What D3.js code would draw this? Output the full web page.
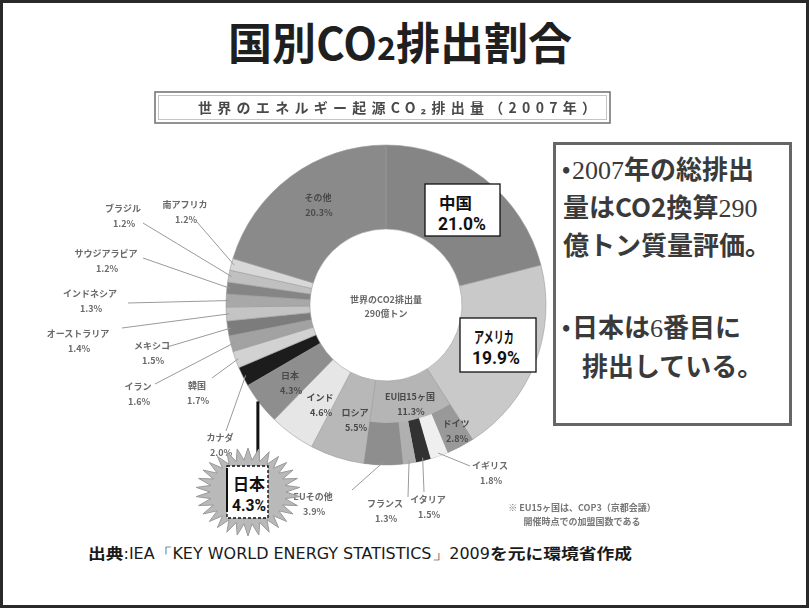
<!DOCTYPE html>
<html>
<head>
<meta charset="utf-8">
<script src="https://cdn.jsdelivr.net/npm/d3@7"></script>
<style>
  body { margin: 0; background: #fff; }
  svg { display: block; font-family: "Noto Sans CJK JP", "Noto Sans", sans-serif; }
</style>
</head>
<body>
<script>
'use strict';

// ---- data ----
const countries = ["中国", "アメリカ", "EU旧15ヶ国", "ロシア", "インド", "日本", "カナダ", "韓国",
  "イラン", "メキシコ", "オーストラリア", "インドネシア", "サウジアラビア", "ブラジル", "南アフリカ", "その他"];
const shares = [21.0, 19.9, 11.3, 5.5, 4.6, 4.3, 2.0, 1.7, 1.6, 1.5, 1.4, 1.3, 1.2, 1.2, 1.2, 20.3];

const euParts = ["ドイツ", "イギリス", "イタリア", "フランス", "EUその他"];
const euShares = [2.8, 1.8, 1.5, 1.3, 3.9];

const slideTitle = "国別CO2排出割合";
const chartTitle = "世界のエネルギー起源CO₂排出量（2007年）";
const centerLines = ["世界のCO2排出量", "290億トン"];
const sideLines1 = ["•2007年の総排出", "量はCO2換算290", "億トン質量評価。"];
const sideLines2 = ["•日本は6番目に", "排出している。"];
const sourceParts = ["出典", ":IEA「KEY WORLD ENERGY STATISTICS」2009", "を元に環境省作成"];
const noteLines = ["※ EU15ヶ国は、COP3（京都会議）", "開催時点での加盟国数である"];

// ---- styles / layout ----
const fills = {
  "中国": "#858585", "アメリカ": "#c9c9c9", "EU旧15ヶ国": "#b5b5b5", "ロシア": "#b8b8b8",
  "インド": "#e6e6e6", "日本": "#8e8e8e", "カナダ": "#1e1e1e", "韓国": "#d2d2d2",
  "イラン": "#a2a2a2", "メキシコ": "#7c7c7c", "オーストラリア": "#c4c4c4", "インドネシア": "#a8a8a8",
  "サウジアラビア": "#858585", "ブラジル": "#c0c0c0", "南アフリカ": "#d8d8d8", "その他": "#8a8a8a",
  "ドイツ": "#999999", "イギリス": "#efefef", "イタリア": "#333333", "フランス": "#b0b0b0", "EUその他": "#8e8e8e"
};

// label anchor [x, y] and leader start [x, y] (null = label sits on the ring)
const labelPos = {
  "ブラジル": [[123, 212], [143, 223]],
  "南アフリカ": [[185, 208], [197, 222]],
  "サウジアラビア": [[106, 257], [143, 258]],
  "インドネシア": [[90, 297], [128, 303]],
  "オーストラリア": [[78, 337], [122, 328]],
  "メキシコ": [[152, 349], [167, 347]],
  "イラン": [[138, 390], [155, 384]],
  "韓国": [[197, 389], [212, 378]],
  "カナダ": [[220, 441], [226, 431]],
  "EUその他": [[313, 500], [352, 490]],
  "フランス": [[385, 507], [408, 497]],
  "イタリア": [[428, 503], [424, 492]],
  "イギリス": [[490, 469], [470, 466]],
  "その他": [[318, 201], null],
  "日本": [[290, 379], null],
  "インド": [[320, 401], null],
  "ロシア": [[355, 416], null],
  "EU旧15ヶ国": [[410, 400], null],
  "ドイツ": [[456, 427], null]
};

const W = 809, H = 608;
const cx = 386, cy = 305;
const rOuter = 160, rInner = 76, rEuSplit = 118;

const svg = d3.select("body").append("svg")
  .attr("width", W)
  .attr("height", H);

const defs = svg.append("defs");
defs.append("filter").attr("id", "soft")
  .append("feGaussianBlur").attr("stdDeviation", 0.6);
defs.append("filter").attr("id", "fuzzy")
  .attr("x", "-20%").attr("y", "-50%").attr("width", "140%").attr("height", "200%")
  .append("feGaussianBlur").attr("stdDeviation", 0.5);

// slide frame
svg.append("rect")
  .attr("x", 1.5).attr("y", 1.5)
  .attr("width", W - 3).attr("height", H - 3)
  .attr("fill", "#fff")
  .attr("stroke", "#2a2a2a")
  .attr("stroke-width", 3);

// slide title
const t = svg.append("text")
  .attr("x", 400).attr("y", 60)
  .attr("text-anchor", "middle")
  .attr("font-size", 44)
  .attr("font-weight", 700)
  .attr("fill", "#1f1f1f");
t.append("tspan").text(slideTitle.slice(0, 4));
t.append("tspan").attr("font-size", 32).text(slideTitle.slice(4, 5));
t.append("tspan").text(slideTitle.slice(5));

// chart title box (double border)
svg.append("rect")
  .attr("x", 155).attr("y", 92).attr("width", 455).attr("height", 31)
  .attr("fill", "#fff").attr("stroke", "#777").attr("stroke-width", 1.6);
svg.append("rect")
  .attr("x", 158.5).attr("y", 95.5).attr("width", 448).attr("height", 24)
  .attr("fill", "none").attr("stroke", "#c4c4c4").attr("stroke-width", 1);
svg.append("text")
  .attr("x", 198).attr("y", 113)
  .attr("textLength", 398)
  .attr("lengthAdjust", "spacing")
  .attr("font-size", 14)
  .attr("font-weight", 700)
  .attr("fill", "#4a4a4a")
  .attr("filter", "url(#fuzzy)")
  .text(chartTitle);

// ---- donut ----
const pie = d3.pie().sort(null).value(d => d.v);
const mainData = countries.map((c, i) => ({ name: c, v: shares[i] }));
const arcs = pie(mainData);

const arc = d3.arc().innerRadius(rInner).outerRadius(rOuter);
const ring = svg.append("g")
  .attr("transform", `translate(${cx},${cy})`)
  .attr("filter", "url(#soft)");

ring.selectAll("path.main")
  .data(arcs)
  .enter()
  .append("path")
  .attr("class", "main")
  .attr("d", arc)
  .attr("fill", d => fills[d.data.name])
  .attr("stroke", "#9c9c9c")
  .attr("stroke-width", 0.6);

// EU breakdown in the outer band of the EU slice
const euArc = arcs.find(a => a.data.name === "EU旧15ヶ国");
const euPie = d3.pie().sort(null).value(d => d.v)
  .startAngle(euArc.startAngle).endAngle(euArc.endAngle);
const euData = euPie(euParts.map((c, i) => ({ name: c, v: euShares[i] })));
const arcEu = d3.arc().innerRadius(rEuSplit).outerRadius(rOuter);
ring.selectAll("path.eu")
  .data(euData)
  .enter()
  .append("path")
  .attr("class", "eu")
  .attr("d", arcEu)
  .attr("fill", d => fills[d.data.name]);

// find share text and mid-angle for any name
const allArcs = arcs.concat(euData);
function info(name) {
  const a = allArcs.find(d => d.data.name === name);
  return { pct: a.data.v.toFixed(1) + "%", mid: (a.startAngle + a.endAngle) / 2 };
}
function edgePoint(angle, r) {
  return [cx + r * Math.sin(angle), cy - r * Math.cos(angle)];
}

// leaders + small labels
const small = svg.append("g").attr("filter", "url(#fuzzy)");
Object.keys(labelPos).forEach(name => {
  const [pos, lead] = labelPos[name];
  const inf = info(name);
  if (lead) {
    const p = edgePoint(inf.mid, rOuter - 3);
    small.append("line")
      .attr("x1", lead[0]).attr("y1", lead[1])
      .attr("x2", p[0]).attr("y2", p[1])
      .attr("stroke", "#9a9a9a")
      .attr("stroke-width", 1);
  }
  small.append("text")
    .attr("x", pos[0]).attr("y", pos[1])
    .attr("text-anchor", "middle")
    .attr("font-size", 9)
    .attr("font-weight", 700)
    .attr("fill", lead ? "#6a6a6a" : "#4a4a4a")
    .text(name);
  small.append("text")
    .attr("x", pos[0] + 1).attr("y", pos[1] + 15)
    .attr("text-anchor", "middle")
    .attr("font-size", 9)
    .attr("font-weight", 700)
    .attr("fill", lead ? "#6a6a6a" : "#4a4a4a")
    .text(inf.pct);
});

// centre text
centerLines.forEach((s, i) => {
  small.append("text")
    .attr("x", cx).attr("y", cy - 2 + i * 14)
    .attr("text-anchor", "middle")
    .attr("font-size", 9)
    .attr("font-weight", 700)
    .attr("fill", "#666")
    .text(s);
});

// footnote
noteLines.forEach((s, i) => {
  small.append("text")
    .attr("x", 582).attr("y", 511 + i * 14)
    .attr("text-anchor", "middle")
    .attr("font-size", 9)
    .attr("font-weight", 700)
    .attr("fill", "#777")
    .text(s);
});

// ---- call-out boxes ----
function callout(x, y, w, h, name, nameLen, pctX) {
  svg.append("rect")
    .attr("x", x).attr("y", y).attr("width", w).attr("height", h)
    .attr("fill", "#fff").attr("stroke", "#111").attr("stroke-width", 1.3);
  svg.append("text")
    .attr("x", x + 14).attr("y", y + 25)
    .attr("textLength", nameLen)
    .attr("lengthAdjust", "spacingAndGlyphs")
    .attr("font-size", 16).attr("font-weight", 700).attr("fill", "#111")
    .text(name);
  svg.append("text")
    .attr("x", pctX).attr("y", y + 46)
    .attr("text-anchor", "middle")
    .attr("font-family", "Roboto, sans-serif")
    .attr("textLength", 48).attr("lengthAdjust", "spacingAndGlyphs")
    .attr("font-size", 18).attr("font-weight", 700).attr("fill", "#111")
    .text(info(name).pct);
}
callout(425, 184, 75, 52, "中国", 33, 462);
callout(460, 318, 76, 54, "アメリカ", 40, 496);

// Japan star burst
const jp = info("日本");
const jpEdge = edgePoint(jp.mid, rOuter);
const starC = [248, 492];
svg.append("line")
  .attr("x1", jpEdge[0] - 2).attr("y1", jpEdge[1] - 2)
  .attr("x2", jpEdge[0] - 2).attr("y2", 468)
  .attr("stroke", "#111").attr("stroke-width", 3);

const spikes = 30;
const starPts = d3.range(spikes * 2).map(i => {
  const a = i * Math.PI / spikes;
  const rx = i % 2 ? 38 : 52;
  const ry = i % 2 ? 32 : 44;
  return [starC[0] + rx * Math.sin(a), starC[1] - ry * Math.cos(a)];
});
svg.append("path")
  .attr("d", d3.line()(starPts) + "Z")
  .attr("fill", "#b9b9b9")
  .attr("stroke", "#9a9a9a")
  .attr("stroke-width", 1);
svg.append("rect")
  .attr("x", 227).attr("y", 466).attr("width", 41).attr("height", 52)
  .attr("fill", "#fff")
  .attr("stroke", "#111").attr("stroke-width", 1.4)
  .attr("stroke-dasharray", "3,2");
svg.append("line")
  .attr("x1", 227).attr("y1", 468).attr("x2", 227).attr("y2", 512)
  .attr("stroke", "#111").attr("stroke-width", 2);
svg.append("text")
  .attr("x", starC[0] + 1).attr("y", 490)
  .attr("text-anchor", "middle")
  .attr("font-size", 16).attr("font-weight", 700).attr("fill", "#111")
  .text("日本");
svg.append("text")
  .attr("x", starC[0] + 1).attr("y", 511)
  .attr("text-anchor", "middle")
  .attr("font-family", "Roboto, sans-serif")
  .attr("textLength", 34).attr("lengthAdjust", "spacingAndGlyphs")
  .attr("font-size", 17).attr("font-weight", 700).attr("fill", "#111")
  .text(jp.pct);

// ---- side text box ----
svg.append("rect")
  .attr("x", 554.5).attr("y", 143.5).attr("width", 236).attr("height", 281)
  .attr("fill", "#fff").attr("stroke", "#666").attr("stroke-width", 3);

function sideLine(s, x, y) {
  const tx = svg.append("text")
    .attr("x", x).attr("y", y)
    .attr("font-size", 26).attr("font-weight", 700).attr("fill", "#3a3a3a");
  // digits in a serif face, like the slide
  s.split(/(\d+)/).forEach(part => {
    if (!part) return;
    const sp = tx.append("tspan").text(part);
    if (/^\d+$/.test(part) && part !== "2") {
      sp.attr("font-family", "'Liberation Serif', serif").attr("font-weight", 400);
    }
  });
}
function sideLineBullet(s, x, y) {
  // bullet drawn on its own, then the rest of the line
  svg.append("text").attr("x", x).attr("y", y - 2)
    .attr("font-size", 22).attr("font-weight", 700)
    .attr("fill", "#3a3a3a").text("•");
  sideLine(s.slice(1), x + 10, y);
}
sideLineBullet(sideLines1[0], 562, 179);
sideLine(sideLines1[1], 563, 217);
sideLine(sideLines1[2], 563, 255);
sideLineBullet(sideLines2[0], 562, 337);
sideLine(sideLines2[1], 582, 376);

// ---- source line ----
const src = svg.append("text")
  .attr("x", 88).attr("y", 559)
  .attr("textLength", 544)
  .attr("lengthAdjust", "spacingAndGlyphs")
  .attr("font-size", 15)
  .attr("fill", "#1a1a1a");
sourceParts.forEach((s, i) => {
  const sp = src.append("tspan").text(s);
  if (i === 1) {
    sp.attr("font-family", "'DejaVu Sans Condensed', 'Liberation Sans Narrow', 'Noto Sans', sans-serif")
      .attr("font-weight", 400);
  } else {
    sp.attr("font-weight", 700);
  }
});
</script>
</body>
</html>
